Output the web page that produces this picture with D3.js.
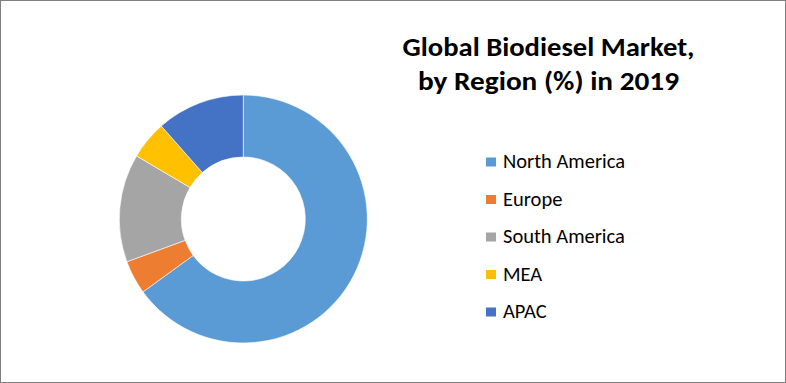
<!DOCTYPE html>
<html><head><meta charset="utf-8">
<script src="https://cdn.jsdelivr.net/npm/d3@7/dist/d3.min.js"></script>
<style>html,body{margin:0;padding:0;background:#fff;}svg{display:block;}</style>
</head><body>
<script>
const categories = ["North America", "Europe", "South America", "MEA", "APAC"];
const values = [65.0, 4.4, 14.1, 5.0, 11.5];
const colors = ["#5B9BD5", "#ED7D31", "#A5A5A5", "#FFC000", "#4472C4"];
const titleLines = ["Global Biodiesel Market,", "by Region (%) in 2019"];

const W = 786, H = 383;
const svg = d3.select("body").append("svg").attr("width", W).attr("height", H);
svg.append("rect").attr("x", 0.5).attr("y", 0.5).attr("width", W - 1).attr("height", H - 1)
  .attr("fill", "#fff").attr("stroke", "#7f7f7f").attr("stroke-width", 1);

const data = categories.map((c, i) => ({cat: c, value: values[i], color: colors[i]}));
const pie = d3.pie().value(d => d.value).sort(null);
const arc = d3.arc().innerRadius(62).outerRadius(124);
const g = svg.append("g").attr("transform", "translate(243.3,219)");
g.selectAll("path").data(pie(data)).join("path")
  .attr("d", arc).attr("fill", d => d.data.color)
  .attr("stroke", "#fff").attr("stroke-width", 0.6);

const font = "Calibri, Carlito, 'Open Sans', 'Noto Sans', sans-serif";
const title = svg.append("text").attr("text-anchor", "middle")
  .attr("font-family", font).attr("font-weight", "bold").attr("font-size", 26).attr("fill", "#000");
title.selectAll("tspan").data(titleLines).join("tspan")
  .attr("x", 548.5).attr("y", (d, i) => 56 + i * 33.5).text(d => d);
title.selectAll("tspan").each(function(d, i) {
  const target = [292, 261][i];
  d3.select(this).attr("textLength", target).attr("lengthAdjust", "spacingAndGlyphs");
});

const legendY = d3.scalePoint().domain(categories).range([162, 312]);
const lg = svg.append("g");
const items = lg.selectAll("g").data(data).join("g")
  .attr("transform", d => `translate(486,${legendY(d.cat)})`);
items.append("rect").attr("x", 0).attr("y", -4.5).attr("width", 10).attr("height", 9).attr("fill", d => d.color);
items.append("text").attr("x", 17).attr("y", 6).attr("font-family", font).attr("font-size", 20.5)
  .attr("fill", "#000").text(d => d.cat);
</script>
</body></html>
